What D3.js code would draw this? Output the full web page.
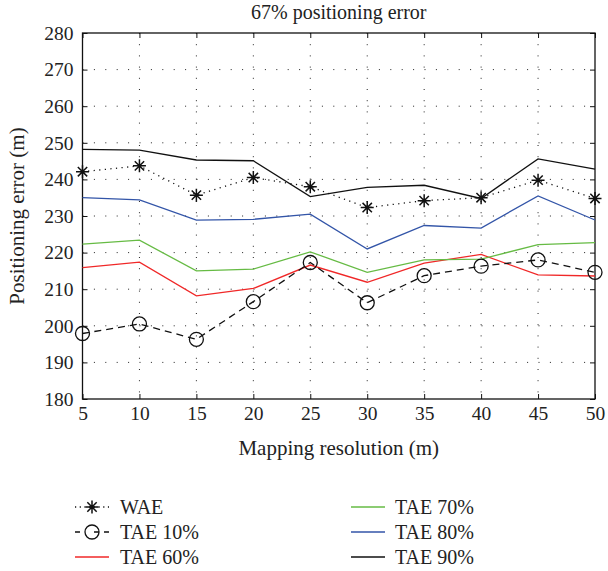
<!DOCTYPE html>
<html>
<head>
<meta charset="utf-8">
<script src="https://cdn.jsdelivr.net/npm/d3@7/dist/d3.min.js"></script>
<style>
  html, body { margin: 0; padding: 0; background: #fff; }
  svg text { font-family: "Liberation Serif", "DejaVu Serif", serif; fill: #222; }
</style>
</head>
<body>
<svg id="chart" width="608" height="571"></svg>
<script>
// ---- data ----
const resolutions = [5, 10, 15, 20, 25, 30, 35, 40, 45, 50];
const wae    = [242.1, 243.7, 235.7, 240.5, 238.0, 232.3, 234.2, 235.0, 239.8, 234.8];
const tae10  = [197.9, 200.5, 196.3, 206.6, 217.3, 206.3, 213.7, 216.3, 218.0, 214.6];
const tae60  = [215.9, 217.4, 208.2, 210.2, 216.6, 211.9, 217.1, 219.5, 213.9, 213.6];
const tae70  = [222.3, 223.4, 215.0, 215.5, 220.2, 214.6, 218.0, 218.2, 222.2, 222.7];
const tae80  = [235.0, 234.4, 228.9, 229.1, 230.5, 221.0, 227.4, 226.7, 235.5, 228.9];
const tae90  = [248.2, 248.0, 245.3, 245.1, 235.3, 237.8, 238.4, 234.8, 245.6, 242.8];
const yTicks = [180, 190, 200, 210, 220, 230, 240, 250, 260, 270, 280];
const xTicks = [5, 10, 15, 20, 25, 30, 35, 40, 45, 50];
const title = "67% positioning error";
const xTitle = "Mapping resolution (m)";
const yTitle = "Positioning error (m)";

const series = [
  {name: "WAE",     values: wae,   color: "#111", dash: "1.2,4.4", marker: "star"},
  {name: "TAE 10%", values: tae10, color: "#111", dash: "7,5",     marker: "circle"},
  {name: "TAE 60%", values: tae60, color: "#f02828", dash: null,   marker: null},
  {name: "TAE 70%", values: tae70, color: "#66bb44", dash: null,   marker: null},
  {name: "TAE 80%", values: tae80, color: "#3355a8", dash: null,   marker: null},
  {name: "TAE 90%", values: tae90, color: "#111", dash: null,      marker: null}
];

// ---- layout ----
const L = 82.5, R = 595, T = 33, B = 399;
const svg = d3.select("#chart");
const x = d3.scaleLinear().domain([5, 50]).range([L, R]);
const y = d3.scaleLinear().domain([180, 280]).range([B, T]);

// grid
const grid = svg.append("g");
grid.selectAll("line.gx").data(xTicks.slice(1, -1)).join("line")
  .attr("x1", d => x(d)).attr("x2", d => x(d)).attr("y1", T).attr("y2", B)
  .attr("stroke", "#222").attr("stroke-width", 1).attr("stroke-dasharray", "1,10.2");
grid.selectAll("line.gy").data(yTicks.slice(1, -1)).join("line")
  .attr("x1", L).attr("x2", R).attr("y1", d => y(d)).attr("y2", d => y(d))
  .attr("stroke", "#222").attr("stroke-width", 1).attr("stroke-dasharray", "1,10.4");

// axes (ticks inside)
const tickFont = "19.5px";
svg.append("g").attr("transform", `translate(0,${B})`)
  .call(d3.axisBottom(x).tickValues(xTicks).tickSizeInner(-5).tickSizeOuter(0).tickPadding(7))
  .call(g => g.select(".domain").remove())
  .call(g => g.selectAll("text").attr("font-size", tickFont).attr("font-family", "Liberation Serif").attr("fill", "#222"));
svg.append("g").attr("transform", `translate(0,${T})`)
  .call(d3.axisTop(x).tickValues(xTicks).tickSizeInner(-5).tickSizeOuter(0).tickFormat(""))
  .call(g => g.select(".domain").remove());
svg.append("g").attr("transform", `translate(${L},0)`)
  .call(d3.axisLeft(y).tickValues(yTicks).tickSizeInner(-5).tickSizeOuter(0).tickPadding(9))
  .call(g => g.select(".domain").remove())
  .call(g => g.selectAll("text").attr("font-size", tickFont).attr("font-family", "Liberation Serif").attr("fill", "#222"));
svg.append("g").attr("transform", `translate(${R},0)`)
  .call(d3.axisRight(y).tickValues(yTicks).tickSizeInner(-5).tickSizeOuter(0).tickFormat(""))
  .call(g => g.select(".domain").remove());
svg.selectAll(".tick line").attr("stroke", "#111");

// box
svg.append("rect").attr("x", L).attr("y", T).attr("width", R - L).attr("height", B - T)
  .attr("fill", "none").attr("stroke", "#111").attr("stroke-width", 1.3);

// series lines
const line = d3.line().x((d, i) => x(resolutions[i])).y(d => y(d));
const plotG = svg.append("g");
function drawMarker(g, type, cx, cy) {
  if (type === "star") {
    const r = 6.5;
    const d = r * 0.72;
    g.append("path")
      .attr("d", `M${cx - r},${cy}H${cx + r}M${cx},${cy - r}V${cy + r}M${cx - d},${cy - d}L${cx + d},${cy + d}M${cx - d},${cy + d}L${cx + d},${cy - d}`)
      .attr("stroke", "#111").attr("stroke-width", 1.5).attr("fill", "none");
  } else if (type === "circle") {
    g.append("circle").attr("cx", cx).attr("cy", cy).attr("r", 7)
      .attr("fill", "none").attr("stroke", "#111").attr("stroke-width", 1.3);
  }
}
// draw order: colored lines first, then black ones
const order = [2, 3, 4, 5, 1, 0];
order.forEach(k => {
  const s = series[k];
  plotG.append("path").datum(s.values).attr("d", line)
    .attr("fill", "none").attr("stroke", s.color).attr("stroke-width", 1.3)
    .attr("stroke-dasharray", s.dash);
  if (s.marker) {
    s.values.forEach((v, i) => drawMarker(plotG, s.marker, x(resolutions[i]), y(v)));
  }
});

// titles
svg.append("text").attr("x", (L + R) / 2).attr("y", 19).attr("text-anchor", "middle")
  .attr("font-size", "20px").text(title);
svg.append("text").attr("x", (L + R) / 2).attr("y", 455).attr("text-anchor", "middle")
  .attr("font-size", "21px").text(xTitle);
svg.append("text").attr("transform", `translate(24,${(T + B) / 2}) rotate(-90)`)
  .attr("text-anchor", "middle").attr("font-size", "21px").text(yTitle);

// legend
const legCols = [{lx: 75, tx: 120}, {lx: 351, tx: 395}];
const legRows = [507, 532, 557];
series.forEach((s, k) => {
  const col = legCols[Math.floor(k / 3)];
  const ry = legRows[k % 3];
  const g = svg.append("g");
  g.append("line").attr("x1", col.lx).attr("x2", col.lx + 34).attr("y1", ry).attr("y2", ry)
    .attr("stroke", s.color).attr("stroke-width", 1.3)
    .attr("stroke-dasharray", s.marker === "star" ? "1.2,3.5" : (s.marker === "circle" ? "5,14,5" : null));
  if (s.marker) drawMarker(g, s.marker, col.lx + 17, ry);
  g.append("text").attr("x", col.tx).attr("y", ry + 7).attr("font-size", "20px").text(s.name);
});
</script>
</body>
</html>
